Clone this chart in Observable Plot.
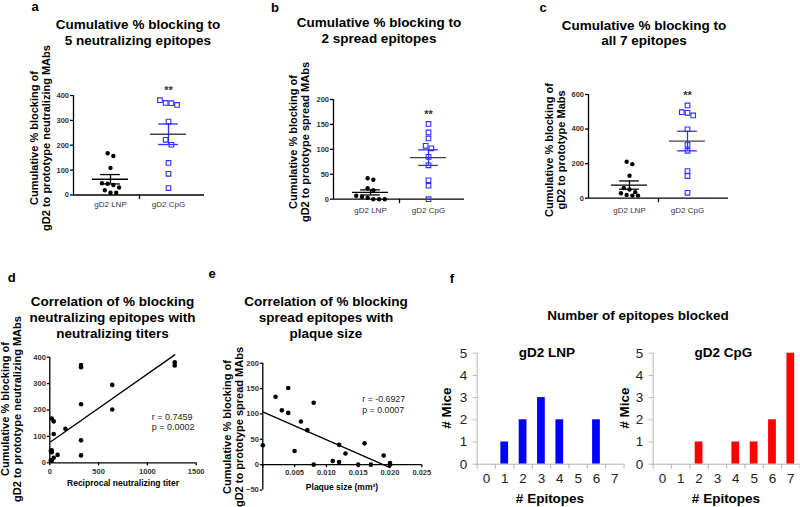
<!DOCTYPE html>
<html><head><meta charset="utf-8">
<script src="https://cdn.jsdelivr.net/npm/d3@7"></script>
<script src="https://cdn.jsdelivr.net/npm/@observablehq/plot@0.6"></script>
<style>
body{margin:0;background:#fff;}
#root{position:relative;width:800px;height:507px;overflow:hidden;background:#fff;font-family:"Liberation Sans",Arial,sans-serif;}
.t{position:absolute;white-space:pre;color:#000;}
</style></head><body><div id="root"></div>
<script>
// ---------------- data ----------------
const groups = ["gD2 LNP", "gD2 CpG"];
const sigMarks = ["", "**"];
// a: cumulative % blocking, 5 neutralizing epitopes
const neutLNP = [168, 157, 109, 47, 45, 40, 30, 19, 9, 9];
const neutCpG = [381, 370, 369, 362, 295, 222, 202, 129, 85, 28];
const neutTicks = [0, 100, 200, 300, 400];
// b: 2 spread epitopes
const spreadLNP = [42, 39, 22, 18, 7, 5, 3, 0, 0, 0];
const spreadCpG = [151, 134, 122, 107, 102, 85, 68, 38, 27, 0];
const spreadTicks = [0, 50, 100, 150, 200];
// c: all 7 epitopes
const allLNP = [211, 197, 130, 59, 50, 35, 29, 19, 15, 15];
const allCpG = [537, 498, 494, 479, 399, 309, 274, 157, 128, 31];
const allTicks = [0, 200, 400, 600];
// d: neutralizing titer vs % blocking
const titer = [1280, 1280, 320, 320, 640, 320, 640, 160, 320, 320, 20, 40, 40, 20, 10, 20, 80, 40, 10, 20];
const neutBlock = [381, 369, 370, 362, 295, 222, 202, 129, 85, 28, 168, 157, 109, 47, 45, 40, 30, 19, 9, 9];
const dXTicks = [0, 500, 1000, 1500];
const dStats = "r = 0.7459\np = 0.0002";
// e: plaque size vs % blocking
const plaque = [0.004, 0.002, 0.008, 0.003, 0.004, 0.006, 0.007, 0, 0.005, 0.008, 0.016, 0.012, 0.013, 0.019, 0.011, 0.012, 0.020, 0.015, 0.017, 0.020];
const spreadBlock = [151, 134, 122, 107, 102, 85, 68, 38, 27, 0, 42, 39, 22, 18, 7, 5, 3, 0, 0, 0];
const eXTicks = [0, 0.005, 0.010, 0.015, 0.020, 0.025];
const eYTicks = [-50, 0, 50, 100, 150, 200];
const eStats = "r = -0.6927\np = 0.0007";
// f: number of epitopes blocked
const epitopes = [0, 1, 2, 3, 4, 5, 6, 7];
const miceLNP = [0, 1, 2, 3, 2, 0, 2, 0];
const miceCpG = [0, 0, 1, 0, 1, 1, 2, 5];
const miceTicks = [0, 1, 2, 3, 4, 5];

// ---------------- styling / layout ----------------
const W = 800, H = 507;
const FONT = "Liberation Sans, Arial, sans-serif";
const BLUE = "#2f2fff", BAR_BLUE = "#0000ff", BAR_RED = "#ff0000", GRID = "#b3b3b3";
const root = document.getElementById("root");
const fmtInt = d3.format("d");

function label(txt, x, y, o = {}) {
  const {size = 13.5, weight = "bold", lh = size * 1.15, rotate = false, align = "center", color = "#000"} = o;
  const d = document.createElement("div");
  d.className = "t";
  d.textContent = txt;
  d.style.left = x + "px";
  d.style.top = y + "px";
  d.style.fontSize = size + "px";
  d.style.fontWeight = weight;
  d.style.lineHeight = lh + "px";
  d.style.color = color;
  d.style.textAlign = align;
  d.style.transform = (align === "left" ? "translate(0,-50%)" : "translate(-50%,-50%)") + (rotate ? " rotate(-90deg)" : "");
  root.appendChild(d);
}

function place(box, xs, ys, marks) {
  const [L, R, T, B] = box;
  const svg = Plot.plot({
    width: W, height: H,
    marginLeft: L, marginRight: W - R, marginTop: T, marginBottom: H - B,
    style: {fontFamily: FONT, background: "transparent", overflow: "visible"},
    x: {label: null, axis: null, ...xs},
    y: {label: null, axis: null, ...ys},
    marks
  });
  svg.style.position = "absolute";
  svg.style.left = "0px";
  svg.style.top = "0px";
  root.appendChild(svg);
}

// GraphPad-like column scatter: points at similar heights spread side by side
function swarm(vals, pxU, thresh, spacing) {
  const idx = d3.range(vals.length).sort((a, b) => vals[b] - vals[a]);
  const off = new Array(vals.length).fill(0);
  let i = 0;
  while (i < idx.length) {
    const top = vals[idx[i]];
    let j = i;
    while (j + 1 < idx.length && (top - vals[idx[j + 1]]) * pxU < thresh) j++;
    const n = j - i + 1;
    for (let k = 0; k < n; k++) off[idx[i + k]] = (k - (n - 1) / 2) * spacing;
    i = j + 1;
  }
  return off;
}

function columnPanel(lay, lnp, cpg, yTicks) {
  const {L, S, R, T, B, pad} = lay;
  const h = 29;
  const xd = [(L - S) / (2 * h) + 0.5, (R - S) / (2 * h) + 0.5];
  const yMax = yTicks[yTicks.length - 1];
  const pxU = (B - T) / yMax, uPx = 1 / (2 * h);
  const pts = [lnp, cpg].map((vals, g) => {
    const off = swarm(vals, pxU, 5, 5.7);
    return vals.map((v, i) => ({g, v, x: g + off[i] * uPx}));
  });
  const st = [lnp, cpg].map((vals, g) => {
    const m = d3.mean(vals), se = d3.deviation(vals) / Math.sqrt(vals.length);
    return {g, m, lo: m - se, hi: m + se, max: d3.max(vals), sig: sigMarks[g]};
  });
  const col = [{mean: "#000", sem: "#000"}, {mean: "#444", sem: BLUE}];
  const marks = [
    Plot.ruleX([xd[0]], {strokeWidth: 1.3}),
    Plot.ruleY([0], {strokeWidth: 1.3}),
    Plot.axisY({ticks: yTicks, tickFormat: fmtInt, tickSize: 3, tickPadding: 1.5, fontSize: 7.5, fontWeight: "bold", fill: "#333", strokeWidth: 1.3, label: null}),
    Plot.axisX({ticks: [0, 1], tickFormat: i => groups[i], tickSize: 0, tickPadding: pad, fontSize: 8, fill: "#333", label: null}),
    Plot.axisX({ticks: [0.5], tickFormat: () => "", tickSize: 4.5, strokeWidth: 1.3, label: null})
  ];
  [0, 1].forEach(g => {
    const s = [st[g]];
    marks.push(
      Plot.ruleX(s, {x: "g", y1: "lo", y2: "hi", stroke: col[g].sem, strokeWidth: 1.3}),
      Plot.ruleY(s, {y: "lo", x1: d => d.g - 0.17, x2: d => d.g + 0.17, stroke: col[g].sem, strokeWidth: 1.3}),
      Plot.ruleY(s, {y: "hi", x1: d => d.g - 0.17, x2: d => d.g + 0.17, stroke: col[g].sem, strokeWidth: 1.3}),
      Plot.ruleY(s, {y: "m", x1: d => d.g - 0.31, x2: d => d.g + 0.31, stroke: col[g].mean, strokeWidth: 1.3})
    );
  });
  marks.push(
    Plot.dot(pts[0], {x: "x", y: "v", r: 2.2, fill: "#000", stroke: "none"}),
    Plot.dot(pts[1], {x: "x", y: "v", r: 2.6, symbol: "square", fill: "none", stroke: BLUE, strokeWidth: 1.1}),
    Plot.text(st.filter(d => d.sig), {x: "g", y: "max", text: "sig", dy: -6, lineAnchor: "bottom", fontSize: 11, fontWeight: "bold", fill: "#333"})
  );
  place([L, R, T, B], {domain: xd}, {domain: [0, yMax]}, marks);
}

// ---------------- panels a, b, c ----------------
columnPanel({L: 73, S: 139, R: 204, T: 95, B: 194.5, pad: 6.5}, neutLNP, neutCpG, neutTicks);
columnPanel({L: 333, S: 399, R: 464, T: 99, B: 198.7, pad: 8.5}, spreadLNP, spreadCpG, spreadTicks);
columnPanel({L: 588, S: 658, R: 728, T: 94, B: 197.7, pad: 9.5}, allLNP, allCpG, allTicks);

// ---------------- panel d ----------------
const dPts = titer.map((t, i) => ({x: t, y: neutBlock[i]}));
place([49.3, 195.7, 356.7, 462.3], {domain: [0, 1500]}, {domain: [0, 400]}, [
  Plot.ruleX([0], {strokeWidth: 1.3}),
  Plot.ruleY([0], {strokeWidth: 1.3}),
  Plot.axisY({ticks: neutTicks, tickFormat: fmtInt, tickSize: 2.5, tickPadding: 1.5, fontSize: 7.5, fontWeight: "bold", fill: "#333", strokeWidth: 1.3, label: null}),
  Plot.axisX({ticks: dXTicks, tickFormat: fmtInt, tickSize: 3, tickPadding: 3, fontSize: 7.5, fontWeight: "bold", fill: "#333", strokeWidth: 1.3, label: null}),
  Plot.linearRegressionY(dPts, {x: "x", y: "y", ci: 0, stroke: "#000", strokeWidth: 1.3}),
  Plot.dot(dPts, {x: "x", y: "y", r: 2.3, fill: "#000", stroke: "none"})
]);

// ---------------- panel e ----------------
const ePts = plaque.map((p, i) => ({x: p, y: spreadBlock[i]}));
const eBox = [262.3, 421.3, 362.7, 489.5];
const eTickU = 3 * (eYTicks[eYTicks.length - 1] - eYTicks[0]) / (eBox[3] - eBox[2]);
place(eBox, {domain: [0, 0.025]}, {domain: [-50, 200]}, [
  Plot.ruleX([0], {strokeWidth: 1.3}),
  Plot.ruleY([0], {strokeWidth: 1.3}),
  Plot.axisY({ticks: eYTicks, tickFormat: fmtInt, tickSize: 2.5, tickPadding: 1.5, fontSize: 7.5, fontWeight: "bold", fill: "#333", strokeWidth: 1.3, label: null}),
  Plot.ruleX(eXTicks, {y1: 0, y2: -eTickU, strokeWidth: 1.3}),
  Plot.text(eXTicks.filter(t => t > 0), {x: d => d, y: 0, text: d => d3.format(".3f")(d), dy: 5, lineAnchor: "top", fontSize: 7.5, fontWeight: "bold", fill: "#333"}),
  Plot.linearRegressionY(ePts, {x: "x", y: "y", ci: 0, stroke: "#000", strokeWidth: 1.3}),
  Plot.dot(ePts, {x: "x", y: "y", r: 2.3, fill: "#000", stroke: "none"})
]);

// ---------------- panel f ----------------
function barPanel(box, counts, color) {
  const data = epitopes.map((k, i) => ({k, n: counts[i]}));
  place(box, {domain: [-0.5, 7.5]}, {domain: [0, 5]}, [
    Plot.rect(data, {x1: d => d.k - 0.5, x2: d => d.k + 0.5, y1: 0, y2: "n", insetLeft: 5.3, insetRight: 5.3, fill: color}),
    Plot.ruleX([-0.5], {stroke: GRID}),
    Plot.ruleY([0], {stroke: GRID}),
    Plot.axisY({ticks: miceTicks, tickFormat: fmtInt, tickSize: 4, tickPadding: 6, fontSize: 13.5, fill: "#222", stroke: GRID, label: null}),
    Plot.axisX({ticks: epitopes, tickFormat: fmtInt, tickSize: 0, tickPadding: 9, fontSize: 13.5, fill: "#222", label: null}),
    Plot.axisX({ticks: d3.range(-0.5, 8, 1), tickSize: 5, tickFormat: () => "", stroke: GRID, label: null})
  ]);
}
barPanel([476.7, 623.5, 352.7, 463.7], miceLNP, BAR_BLUE);
barPanel([652.7, 799.5, 352.7, 463.7], miceCpG, BAR_RED);

// ---------------- text ----------------
const letters = [["a", 35, 7], ["b", 275, 8], ["c", 543, 7.5], ["d", 11.7, 277.8], ["e", 212, 273.8], ["f", 452, 278.8]];
letters.forEach(([t, x, y]) => label(t, x, y, {size: 13}));

const titles = [
  ["Cumulative % blocking to\n5 neutralizing epitopes", 138, 32.1, 15.5],
  ["Cumulative % blocking to\n2 spread epitopes", 379, 30.3, 15.5],
  ["Cumulative % blocking to\nall 7 epitopes", 644, 32.8, 15.5],
  ["Correlation of % blocking\nneutralizing epitopes with\nneutralizing titers", 112.5, 317.5, 16.2],
  ["Correlation of % blocking\nspread epitopes with\nplaque size", 326, 317.5, 16.2]
];
titles.forEach(([t, x, y, lh]) => label(t, x, y, {size: 13.5, lh}));
label("Number of epitopes blocked", 638, 316, {size: 13.5});

const yLabels = [
  ["Cumulative % blocking of\ngD2 to prototype neutralizing MAbs", 39.5, 138],
  ["Cumulative % blocking of\ngD2 to prototype spread MAbs", 299, 142],
  ["Cumulative % blocking of\ngD2 to prototype Mabs", 555, 150],
  ["Cumulative % blocking of\ngD2 to prototype neutralizing MAbs", 11, 409],
  ["Cumulative % blocking of\ngD2 to prototype spread MAbs", 232.5, 427]
];
yLabels.forEach(([t, x, y]) => label(t, x, y, {size: 11, lh: 12, rotate: true}));

label("Reciprocal neutralizing titer", 123, 483.5, {size: 8.5});
label("Plaque size (mm²)", 342, 487.5, {size: 8.5});
label(dStats, 151.7, 422, {size: 9, weight: "normal", lh: 10.3, align: "left", color: "#222"});
label(eStats, 362.3, 404.5, {size: 8.8, weight: "normal", lh: 11, align: "left", color: "#222"});

label(groups[0], 547, 352.6, {size: 13.5});
label(groups[1], 723.5, 352.6, {size: 13.5});
label("# Mice", 446.7, 407.5, {size: 13.5, rotate: true});
label("# Mice", 625, 407.5, {size: 13.5, rotate: true});
label("# Epitopes", 550, 498.6, {size: 13.5});
label("# Epitopes", 726, 498.6, {size: 13.5});
</script>
</body></html>
